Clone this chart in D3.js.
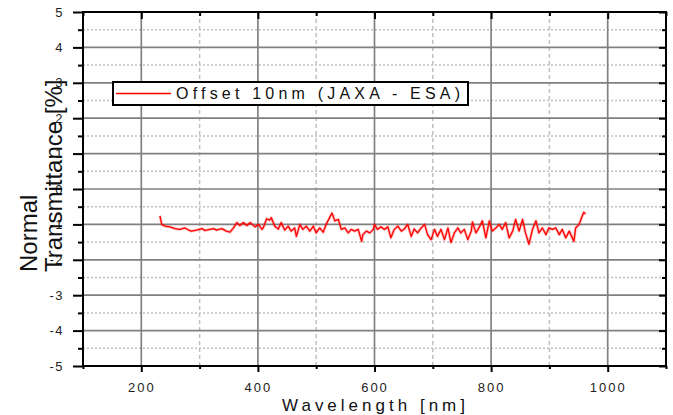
<!DOCTYPE html>
<html>
<head>
<meta charset="utf-8">
<script src="https://cdn.jsdelivr.net/npm/d3@7"></script>
<style>
  html, body { margin: 0; padding: 0; background: #fff; }
  svg { display: block; font-family: Arial, "Liberation Sans", sans-serif; }
</style>
</head>
<body>
<svg id="chart" width="673" height="415"></svg>
<script>
// Measured spectrum: wavelength (nm) and normal transmittance offset (%)
const wavelength = [
  232, 235, 241, 249, 258, 266, 275, 281, 286, 295, 304, 309, 318, 324, 329, 338, 346, 352, 358, 364,
  369, 375, 381, 387, 395, 401, 407, 409, 415, 420, 423, 429, 435, 440, 446, 452, 457, 463, 466, 472,
  477, 483, 489, 495, 500, 506, 512, 517, 523, 527, 532, 538, 543, 549, 555, 560, 566, 572, 578, 580,
  586, 592, 598, 600, 605, 611, 617, 623, 628, 634, 640, 646, 651, 657, 663, 668, 674, 680, 686, 691,
  697, 703, 708, 714, 720, 726, 731, 737, 743, 748, 754, 760, 766, 768, 774, 780, 785, 791, 797, 802,
  808, 814, 819, 825, 831, 837, 842, 848, 854, 859, 865, 871, 877, 882, 888, 894, 899, 905, 911, 917,
  922, 928, 934, 942, 945, 951, 954, 959, 962
];
const transmittance = [
  -0.76, -1.00, -1.05, -1.07, -1.12, -1.14, -1.10, -1.16, -1.19, -1.16, -1.12, -1.17, -1.14, -1.12, -1.16, -1.12, -1.19, -1.22, -1.10, -0.95,
  -1.03, -0.95, -1.03, -0.95, -1.07, -1.00, -1.14, -1.10, -0.84, -0.88, -0.81, -1.05, -1.13, -0.95, -1.16, -1.05, -1.19, -1.10, -1.34, -1.00,
  -1.14, -1.05, -1.19, -1.05, -1.24, -1.10, -1.22, -1.00, -0.81, -0.68, -0.90, -0.86, -1.14, -1.10, -1.24, -1.14, -1.19, -1.14, -1.48, -1.29,
  -1.19, -1.24, -1.14, -1.00, -1.14, -1.07, -1.14, -1.07, -1.38, -1.14, -1.05, -1.19, -1.13, -1.00, -1.34, -1.13, -1.24, -1.10, -1.00, -1.29,
  -1.43, -1.14, -1.34, -1.14, -1.43, -1.10, -1.51, -1.24, -1.10, -1.24, -1.14, -1.43, -1.19, -0.93, -1.24, -1.07, -0.90, -1.38, -0.90, -1.19,
  -1.10, -1.00, -1.14, -0.95, -1.38, -1.19, -0.86, -1.19, -0.86, -1.24, -1.56, -1.14, -0.90, -1.24, -1.10, -1.29, -1.10, -1.14, -1.10, -1.29,
  -1.14, -1.38, -1.19, -1.48, -1.10, -1.00, -0.86, -0.66, -0.71
];
const xMajorTicks = [200, 400, 600, 800, 1000];
const xMinorTicks = [100, 300, 500, 700, 900, 1100];
const yMajorTicks = [-5, -4, -3, -2, -1, 0, 1, 2, 3, 4, 5];
const yMinorTicks = [-4.5, -3.5, -2.5, -1.5, -0.5, 0.5, 1.5, 2.5, 3.5, 4.5];
const seriesName = "Offset 10nm (JAXA - ESA)";
const xTitle = "Wavelength [nm]";
const yTitleLines = ["Normal", "Transmittance [%]"];

const svg = d3.select("#chart");
const L = 83, R = 666, T = 12, B = 366;
const x = d3.scaleLinear().domain([100, 1100]).range([L, R]);
const y = d3.scaleLinear().domain([-5, 5]).range([B, T]);
const plainNum = d => String(d); // ASCII hyphen for negatives

// grid: minor first, then major on top
const grid = svg.append("g");
grid.selectAll("line.hmin").data(yMinorTicks).join("line")
  .attr("x1", L).attr("x2", R).attr("y1", d => y(d)).attr("y2", d => y(d))
  .attr("stroke", "#c0c0c0").attr("stroke-width", 1.5).attr("stroke-dasharray", "2,2");
grid.selectAll("line.vmin").data(xMinorTicks.filter(d => d > 100 && d < 1100)).join("line")
  .attr("y1", T).attr("y2", B).attr("x1", d => x(d)).attr("x2", d => x(d))
  .attr("stroke", "#c0c0c0").attr("stroke-width", 1.5).attr("stroke-dasharray", "4,3");
grid.selectAll("line.hmaj").data(yMajorTicks.filter(d => d > -5 && d < 5)).join("line")
  .attr("x1", L).attr("x2", R).attr("y1", d => y(d)).attr("y2", d => y(d))
  .attr("stroke", "#808080").attr("stroke-width", 1.7);
grid.selectAll("line.vmaj").data(xMajorTicks).join("line")
  .attr("y1", T).attr("y2", B).attr("x1", d => x(d)).attr("x2", d => x(d))
  .attr("stroke", "#808080").attr("stroke-width", 1.7);

// data trace with a soft halo
const line = d3.line().x((d, i) => x(wavelength[i])).y(d => y(d));
svg.append("path").datum(transmittance).attr("d", line)
  .attr("fill", "none").attr("stroke", "#ff0000").attr("stroke-opacity", 0.25)
  .attr("stroke-width", 3).attr("stroke-linejoin", "round");
svg.append("path").datum(transmittance).attr("d", line)
  .attr("fill", "none").attr("stroke", "#ff0000")
  .attr("stroke-width", 1.3).attr("stroke-linejoin", "round");

// axes
function styleAxis(g) {
  g.select(".domain").remove();
  g.selectAll(".tick line").attr("stroke", "#000").attr("stroke-width", 2);
  g.selectAll(".tick text").attr("fill", "#222").attr("font-size", 13)
    .attr("font-family", "Arial, 'Liberation Sans', sans-serif").attr("letter-spacing", "2px");
}
svg.append("g").attr("transform", `translate(0,${B})`)
  .call(d3.axisBottom(x).tickValues(xMajorTicks).tickSize(6).tickPadding(11).tickFormat(plainNum))
  .call(styleAxis);
svg.append("g").attr("transform", `translate(0,${B})`)
  .call(d3.axisBottom(x).tickValues(xMinorTicks).tickSize(3).tickFormat(""))
  .call(styleAxis);
svg.append("g").attr("transform", `translate(0,${T})`)
  .call(d3.axisBottom(x).tickValues(xMajorTicks).tickSize(7).tickFormat(""))
  .call(styleAxis);
svg.append("g").attr("transform", `translate(0,${T})`)
  .call(d3.axisBottom(x).tickValues(xMinorTicks).tickSize(4).tickFormat(""))
  .call(styleAxis);
const leftAx = svg.append("g").attr("transform", `translate(${L},0)`)
  .call(d3.axisLeft(y).tickValues(yMajorTicks).tickSize(10).tickPadding(9).tickFormat(plainNum))
  .call(styleAxis);
leftAx.selectAll(".tick text").attr("letter-spacing", "1.5px");
svg.append("g").attr("transform", `translate(${L},0)`)
  .call(d3.axisLeft(y).tickValues(yMinorTicks).tickSize(5).tickFormat(""))
  .call(styleAxis);
svg.append("g").attr("transform", `translate(${R},0)`)
  .call(d3.axisLeft(y).tickValues(yMajorTicks).tickSize(7).tickFormat(""))
  .call(styleAxis);
svg.append("g").attr("transform", `translate(${R},0)`)
  .call(d3.axisLeft(y).tickValues(yMinorTicks).tickSize(4).tickFormat(""))
  .call(styleAxis);

// frame
svg.append("rect").attr("x", L).attr("y", T).attr("width", R - L).attr("height", B - T)
  .attr("fill", "none").attr("stroke", "#000").attr("stroke-width", 2);

// axis titles
svg.append("text").attr("x", 282).attr("y", 411)
  .attr("font-size", 17).attr("fill", "#111")
  .attr("textLength", 183).attr("lengthAdjust", "spacing").text(xTitle);
yTitleLines.forEach((t, i) => {
  svg.append("text").attr("transform", `translate(${37 + i * 25},272) rotate(-90)`)
    .attr("font-size", 24).attr("fill", "#111").text(t);
});

// legend
const lg = svg.append("g");
lg.append("rect").attr("x", 113).attr("y", 82).attr("width", 355).attr("height", 23)
  .attr("fill", "#fff").attr("stroke", "#000").attr("stroke-width", 2);
lg.append("line").attr("x1", 116).attr("x2", 171).attr("y1", 93.5).attr("y2", 93.5)
  .attr("stroke", "#ff0000").attr("stroke-width", 1.5);
lg.append("text").attr("x", 176).attr("y", 98.5).attr("font-size", 16).attr("fill", "#111")
  .attr("textLength", 284).attr("lengthAdjust", "spacing").text(seriesName);
</script>
</body>
</html>
